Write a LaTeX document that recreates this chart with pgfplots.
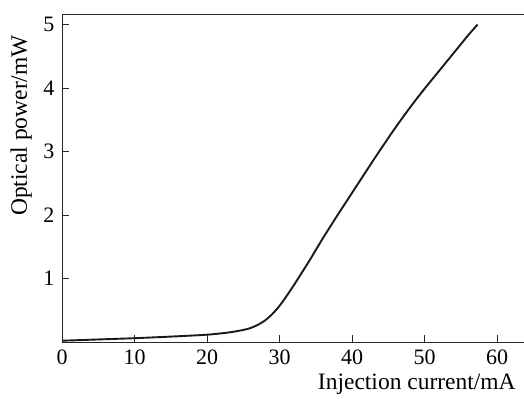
\documentclass[border=0pt]{standalone}
\usepackage{pgfplots}
\pgfplotsset{compat=1.18}
\usepackage{fontspec}
\setmainfont{Liberation Serif}
\begin{document}
\fontsize{22bp}{26bp}\selectfont
\begin{tikzpicture}
\begin{axis}[
  scale only axis,
  width=462bp, height=328bp,
  xmin=0, xmax=63.7, ymin=0, ymax=5.165,
  axis x line=box, axis y line=left,
  axis line style={-, line width=0.9bp, black!85},
  xtick={0,10,...,60}, ytick={1,2,3,4,5},
  xtick pos=bottom, ytick pos=left,
  tick align=inside,
  major tick length=7bp,
  tick style={line width=0.8bp, black!85},
  /pgf/number format/assume math mode=true,
  ticklabel style={font=\fontsize{22bp}{26bp}\selectfont},
  label style={font=\fontsize{23.5bp}{28bp}\selectfont},
  xlabel={Injection current/mA},
  ylabel={Optical power/mW},
  xlabel style={at={(axis description cs:0.768,-0.128)}, anchor=center},
  ylabel style={at={(axis description cs:-0.088,0.66)}, anchor=center},
]
\addplot[black!90, line width=1.9bp, smooth, tension=0.4] coordinates {
(0,0.02) (5,0.04) (10,0.06) (15,0.085) (20,0.115) (23,0.15) (25,0.19)
(26,0.22) (27,0.27) (28,0.34) (29,0.44) (30,0.57) (31,0.73) (32,0.90)
(33,1.08) (34,1.26) (35,1.45) (36,1.64) (37,1.82) (38,2.00) (39,2.175)
(40,2.35) (41,2.525) (42,2.70) (43,2.875) (44,3.045) (45,3.215) (46,3.38)
(47,3.54) (48,3.695) (49,3.845) (50,3.99) (51,4.13) (52,4.27) (53,4.41)
(54,4.55) (55,4.69) (56,4.83) (57.3,5.0)
};
\end{axis}
\pgfresetboundingbox
\path (-62bp,-57bp) rectangle (462bp,342bp);
\end{tikzpicture}
\end{document}
